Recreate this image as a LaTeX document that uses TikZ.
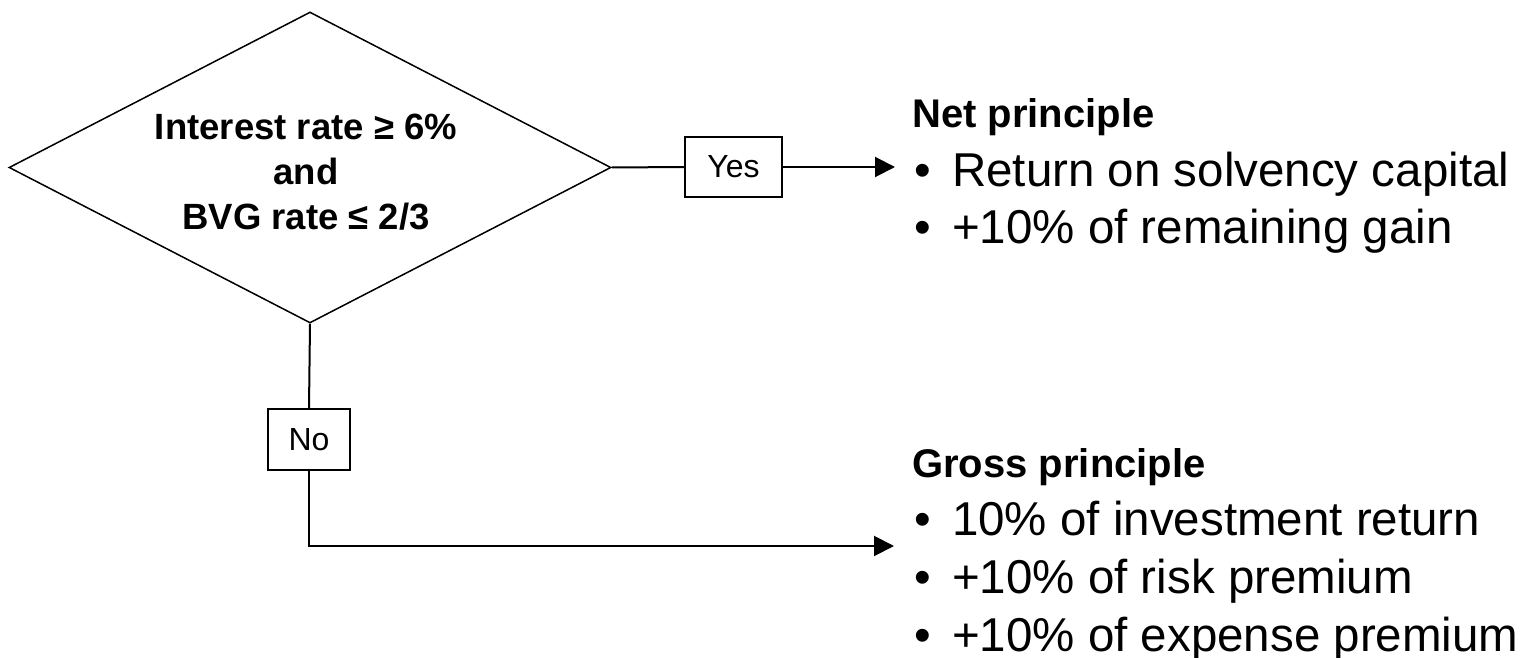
\documentclass[tikz,border=0pt]{standalone}
\usepackage{fontspec}
\setmainfont{Liberation Sans}
\usepackage{tikz}
\usetikzlibrary{shapes.geometric,arrows.meta}

\tikzset{
  decision/.style={diamond, draw, line width=1.5pt, inner sep=0pt,
    minimum width=602pt, minimum height=311pt},
  condtxt/.style={inner sep=0pt, align=center,
    font=\bfseries\fontsize{36.5}{45}\selectfont},
  answer/.style={rectangle, draw, line width=2pt, inner sep=0pt,
    font=\fontsize{32}{38}\selectfont},
  head/.style={anchor=base west, inner sep=0pt, font=\bfseries\fontsize{40}{48}\selectfont},
  item/.style={anchor=base west, inner sep=0pt, font=\fontsize{47.5}{57}\selectfont},
  flow/.style={line width=2pt},
  flowarr/.style={line width=2pt, -{Triangle[length=20pt,width=20pt]}}
}
\newcommand{\bul}{\makebox[38pt][l]{•}}

\begin{document}
\begin{tikzpicture}[x=1pt,y=-1pt]
\useasboundingbox (0,0) rectangle (1527,658);

\node[decision] (cond) at (310,167.5) {};
\node[condtxt] (condtext) at (306,172) {Interest rate ≥ 6\%\\and\\BVG rate ≤ 2/3};

\node[answer, minimum width=97pt, minimum height=60pt] (yes) at (733.5,167) {Yes};
\node[answer, minimum width=82pt, minimum height=61pt] (no) at (309,439.5) {No};

\coordinate (netin) at (895,167);
\coordinate (grossin) at (894,546);

% yes branch
\draw[flow] (cond.east) -- (yes.west);
\draw[flowarr] (yes.east) -- (netin);
% no branch
\draw[flow] (cond.south) -- (no.north);
\draw[flowarr] (no.south) |- (grossin);

\node[head] (net) at (912,128) {Net principle};
\node[item] (net1) at (914,186) {\bul Return on solvency capital};
\node[item] (net2) at (914,243) {\bul +10\% of remaining gain};

\node[head] (gross) at (912,477) {Gross principle};
\node[item] (gross1) at (914,535) {\bul 10\% of investment return};
\node[item] (gross2) at (914,593) {\bul +10\% of risk premium};
\node[item] (gross3) at (914,651) {\bul +10\% of expense premium};

\end{tikzpicture}
\end{document}
